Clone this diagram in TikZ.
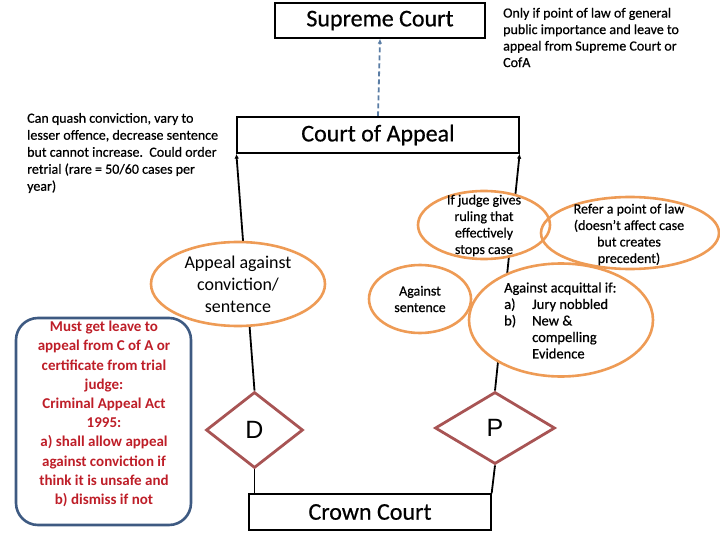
\documentclass[tikz,border=0pt]{standalone}
\usepackage{fontspec}
\setmainfont{Carlito}
\newfontfamily\semib{Carlito}[FakeBold=0.6]
\newfontfamily\arialf{Liberation Sans}
\usetikzlibrary{shapes.geometric,arrows.meta}
\definecolor{ellorange}{RGB}{238,155,85}
\definecolor{diared}{RGB}{168,84,84}
\definecolor{boxblue}{RGB}{62,90,130}
\definecolor{dashblue}{RGB}{90,125,165}
\definecolor{redtext}{RGB}{190,30,40}
\pgfdeclarelayer{bg}
\pgfdeclarelayer{mid}
\pgfsetlayers{bg,mid,main}
\tikzset{
  boxst/.style={draw=black, line width=1.3pt, inner sep=0pt, font=\semib\fontsize{24}{28}\selectfont},
  ellst/.style={ellipse, draw=ellorange, line width=2.6pt, inner sep=0pt},
  diast/.style={diamond, draw=diared, line width=2.8pt, inner sep=0pt, font=\arialf\fontsize{25}{28}\selectfont},
  connst/.style={draw=black, line width=1.8pt},
  dashst/.style={draw=dashblue, line width=1.8pt, dash pattern=on 5pt off 3pt},
  arrowst/.style={-{Latex[length=5pt,width=4.5pt]}},
  txt/.style={font=\semib\fontsize{14}{16.5}\selectfont, inner sep=0pt, align=center}
}
\begin{document}
\begin{tikzpicture}[x=1pt,y=-1pt]
\useasboundingbox (0,0) rectangle (720,540);

% boxes
\node[boxst, minimum width=210pt, minimum height=35pt] (sc) at (380,20.5) {Supreme Court};
\node[boxst, minimum width=282pt, minimum height=36pt] (coa) at (378,135) {Court of Appeal};
\node[boxst, minimum width=242pt, minimum height=36pt] (cc) at (370,512) {Crown Court};

% diamonds
\node[diast, minimum width=97pt, minimum height=76pt] (D) at (254.5,430) {D};
\node[diast, minimum width=120pt, minimum height=72pt] (P) at (495,428) {P};

% ellipses
\node[ellst, minimum width=174pt, minimum height=84pt] (appeal) at (238,284) {};
\node[txt, font=\fontsize{18}{22}\selectfont] (appealt) at (appeal) {Appeal against\\conviction/\\sentence};

\node[ellst, minimum width=102pt, minimum height=68pt] (sent) at (420,299) {};
\node[txt] (sentt) at (sent) {Against\\sentence};

\node[ellst, minimum width=132pt, minimum height=68pt] (judge) at (484,225) {};
\node[txt] (judget) at (484,225.5) {If judge gives\\ruling that\\effectively\\stops case};

\node[ellst, minimum width=178pt, minimum height=72pt] (refer) at (630,233) {};
\node[txt] (refert) at (629,234.5) {Refer a point of law\\(doesn’t affect case\\but creates\\precedent)};

\node[ellst, minimum width=184pt, minimum height=113pt] (acq) at (561,320) {};
\node[txt, align=left, anchor=west, font=\semib\fontsize{14.5}{16.5}\selectfont] (acqt) at (504,320.5) {Against acquittal if:\\\makebox[28pt][l]{a)}Jury nobbled\\\makebox[28pt][l]{b)}New \&\\\hspace*{28pt}compelling\\\hspace*{28pt}Evidence};

% rounded blue box
\node[draw=boxblue, line width=2.6pt, rounded corners=22pt, minimum width=175pt, minimum height=207pt, inner sep=0pt] (leave) at (103.5,421.5) {};
\node[txt, text=redtext, font=\bfseries\fontsize{15}{19.2}\selectfont] (leavet) at (104,414) {Must get leave to\\appeal from C of A or\\certificate from trial\\judge:\\Criminal Appeal Act\\1995:\\a) shall allow appeal\\against conviction if\\think it is unsafe and\\b) dismiss if not};

% free texts
\node[txt, align=left, anchor=west] (note1) at (503,37.5) {Only if point of law of general\\public importance and leave to\\appeal from Supreme Court or\\CofA};
\node[txt, align=left, anchor=west, font=\semib\fontsize{14}{17}\selectfont] (note2) at (27,153) {Can quash conviction, vary to\\lesser offence, decrease sentence\\but cannot increase.\ \ Could order\\retrial (rare = 50/60 cases per\\year)};

% white fills under ellipses
\begin{pgfonlayer}{mid}
\fill[white] (appeal.center) ellipse [x radius=87pt, y radius=42pt];
\fill[white] (sent.center) ellipse [x radius=51pt, y radius=34pt];
\fill[white] (judge.center) ellipse [x radius=66pt, y radius=34pt];
\fill[white] (refer.center) ellipse [x radius=89pt, y radius=36pt];
\fill[white] (acq.center) ellipse [x radius=92pt, y radius=56.5pt];
\end{pgfonlayer}

% connectors
\begin{pgfonlayer}{bg}
\draw[connst, arrowst] (D.north) -- (coa.south west);
\draw[connst, arrowst] (P.north) -- (coa.south east);
\draw[connst] (D.south) -- (D.south |- cc.north);
\draw[connst] (P.south) -- (cc.north east);
\draw[dashst, arrowst] (coa.north) -- (sc.south);
\end{pgfonlayer}
\end{tikzpicture}
\end{document}
